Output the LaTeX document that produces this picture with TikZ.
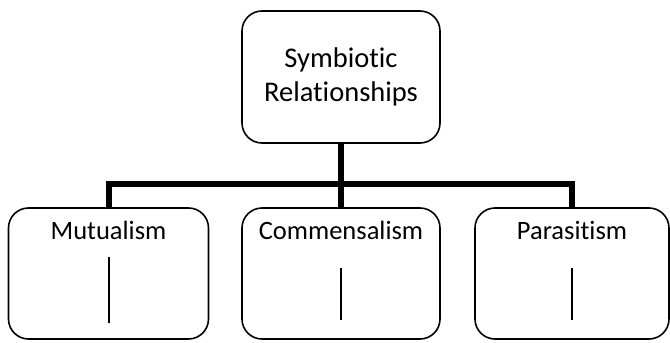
\documentclass[tikz,border=0pt]{standalone}
\usepackage{fontspec}
\setmainfont{Carlito}[Ligatures=NoCommon]
\usetikzlibrary{positioning}

\begin{document}
\begin{tikzpicture}[
    x=1pt, y=-1pt,
    every node/.style={font=\fontsize{26.5}{33}\selectfont},
    box/.style={rectangle, rounded corners=20pt, draw=black, line width=1.6pt,
                inner sep=0pt, minimum height=131pt},
    lab/.style={anchor=base},
    bar/.style={line width=6pt, color=black},
    tick/.style={line width=1.6pt, color=black},
]
\useasboundingbox (0,0) rectangle (670,343);

% ================================================================ top
\node[box, minimum width=198pt, minimum height=132pt, align=center,
      font=\fontsize{28.5}{34}\selectfont]
    (sym) at (341,77) {Symbiotic\\ Relationships};

% ================================================================ kinds
\node[box, minimum width=200pt] (mut) at (108.5,273.5) {};
\node[box, minimum width=198pt] (com) at (341,273.5) {};
\node[box, minimum width=194pt] (par) at (572,273.5) {};
\node[lab] (mutlab) at (108.5,239) {Mutualism};
\node[lab] (comlab) at (341,239) {Commensalism};
\node[lab] (parlab) at (572,239) {Parasitism};

% the branches
\coordinate (hub) at (341,184);
\draw[bar] (sym) -- (com);
\draw[bar] (mut.north) |- (hub) -| (par.north);

% short strokes inside
\coordinate (m1) at (109,257);  \coordinate (m2) at (109,323);
\coordinate (c1) at (341,268);  \coordinate (c2) at (341,320);
\coordinate (p1) at (572,268);  \coordinate (p2) at (572,320);
\foreach \a/\b in {m1/m2, c1/c2, p1/p2}{ \draw[tick] (\a) -- (\b); }
\end{tikzpicture}
\end{document}
